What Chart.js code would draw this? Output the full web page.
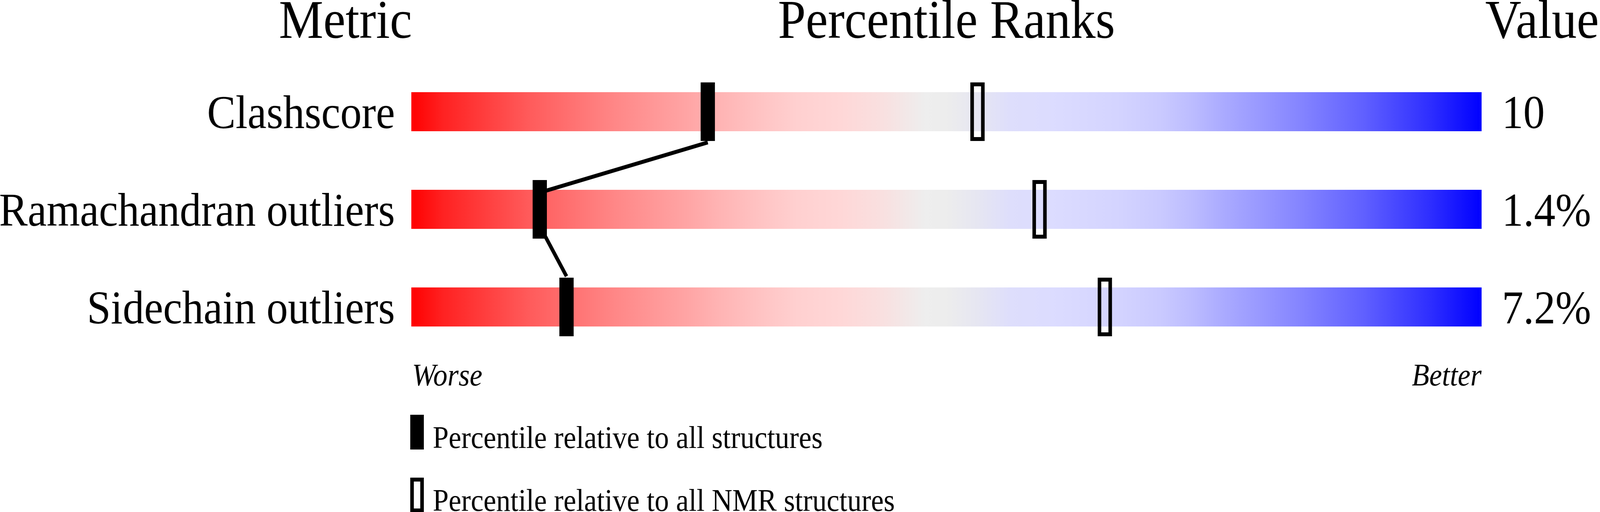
<!DOCTYPE html>
<html>
<head>
<meta charset="utf-8">
<script src="https://cdn.jsdelivr.net/npm/chart.js@4.4.1/dist/chart.umd.min.js"></script>
<style>
html,body{margin:0;padding:0;background:#ffffff;overflow:hidden;width:100%;height:100%}
#wrap{position:absolute;left:0;top:0;width:4485px;height:1311px;transform-origin:0 0}
canvas{display:block}
</style>
</head>
<body>
<div id="wrap"><canvas id="c" width="4485" height="1311" style="width:4485px;height:1311px"></canvas></div>
<script>
// ---------------- data ----------------
const metrics = ['Clashscore', 'Ramachandran outliers', 'Sidechain outliers'];
const valueLabels = ['10', '1.4%', '7.2%'];
const percentileAll = [27.7, 12.0, 14.5];   // black markers
const percentileNMR = [52.9, 58.7, 64.8];   // open markers
const rankMin = 0;
const rankMax = 100;
const headerLabels = ['Metric', 'Percentile Ranks', 'Value'];
const endLabels = ['Worse', 'Better'];
const legendLabels = ['Percentile relative to all structures', 'Percentile relative to all NMR structures'];

// ---------------- layout / style constants ----------------
const W = 4485, H = 1311;
const PLOT_LEFT = 1153, PLOT_RIGHT = 4153, PLOT_TOP = 161, PLOT_BOTTOM = 911;
const TRACK_FRAC = 0.4;   // track height / category height
const MARKER_FRAC = 0.6;  // marker height / category height
const MARKER_PX = 40;
const SERIF = '"Liberation Serif", "Times New Roman", serif';
const gradStops = [
  [0.00, '#ff0000'], [0.03, '#ff2222'], [0.08, '#ff4646'], [0.11, '#ff5b5b'],
  [0.16, '#ff7777'], [0.19, '#ff8787'], [0.23, '#ff9999'], [0.26, '#ffa6a6'],
  [0.29, '#ffb5b5'], [0.33, '#ffc5c5'], [0.36, '#ffd0d0'], [0.40, '#ffd7d7'],
  [0.44, '#f9e0e0'], [0.48, '#eeeeee'], [0.50, '#ededed'], [0.53, '#e6e6f2'],
  [0.56, '#dedefc'], [0.60, '#dcdcff'], [0.66, '#d4d4ff'], [0.70, '#cacaff'],
  [0.73, '#bcbcff'], [0.76, '#aaaaff'], [0.80, '#9595ff'], [0.83, '#8585ff'],
  [0.89, '#6060ff'], [0.95, '#3030ff'], [1.00, '#0000ff']
];

// fit the fixed-size drawing into whatever viewport the browser really has
(function fitViewport() {
  const vw = window.innerWidth || W, vh = window.innerHeight || H;
  document.getElementById('wrap').style.transform = 'scale(' + (vw / W) + ',' + (vh / H) + ')';
})();

const halfMarker = (MARKER_PX / 2) / (PLOT_RIGHT - PLOT_LEFT) * (rankMax - rankMin);
const markerRange = p => [p - halfMarker, p + halfMarker];

// connecting polyline: bottom of each track to top of the next one
const linePoints = [];
percentileAll.forEach((p, i) => {
  if (i > 0) linePoints.push({ x: p, y: i - TRACK_FRAC / 2 });
  if (i < percentileAll.length - 1) linePoints.push({ x: p, y: i + TRACK_FRAC / 2 });
});

function trackGradient(c) {
  const ca = c.chart.chartArea;
  if (!ca) return '#eeeeee';
  const g = c.chart.ctx.createLinearGradient(ca.left, 0, ca.right, 0);
  gradStops.forEach(([o, col]) => g.addColorStop(o, col));
  return g;
}

const textPlugin = {
  id: 'textPlugin',
  afterDraw(chart) {
    const ctx = chart.ctx;
    const ca = chart.chartArea;
    ctx.save();
    ctx.fillStyle = '#000';
    ctx.textBaseline = 'alphabetic';
    // headers
    ctx.font = '140px ' + SERIF;
    const hy = ca.top - 64;
    ctx.textAlign = 'right';
    ctx.fillText(headerLabels[0], ca.left + 2, hy);
    ctx.textAlign = 'center';
    ctx.fillText(headerLabels[1], (ca.left + ca.right) / 2, hy);
    ctx.textAlign = 'right';
    ctx.fillText(headerLabels[2], W - 3, hy);
    // Worse / Better
    ctx.font = 'italic 80px ' + SERIF;
    const wy = ca.bottom + 76;
    ctx.textAlign = 'left';
    ctx.fillText(endLabels[0], ca.left + 2, wy);
    ctx.textAlign = 'right';
    ctx.fillText(endLabels[1], ca.right, wy);
    // legend
    const lx = ca.left - 3, sw = 38, sh = 89;
    const ly1 = 1062, ly2 = 1223;
    ctx.fillRect(lx, ly1, sw, sh);
    ctx.lineWidth = 10;
    ctx.strokeStyle = '#000';
    ctx.strokeRect(lx + 5, ly2 + 5, sw - 10, sh - 10);
    ctx.font = '80px ' + SERIF;
    ctx.textAlign = 'left';
    ctx.fillText(legendLabels[0], lx + 63, ly1 + 85);
    ctx.fillText(legendLabels[1], lx + 63, ly2 + 85);
    ctx.restore();
  }
};

new Chart(document.getElementById('c'), {
  type: 'bar',
  data: {
    labels: metrics,
    datasets: [
      {
        label: 'All structures',
        data: percentileAll.map(markerRange),
        backgroundColor: '#000000',
        borderWidth: 0,
        barPercentage: MARKER_FRAC,
        categoryPercentage: 1,
        grouped: false,
        order: 0
      },
      {
        label: 'NMR structures',
        data: percentileNMR.map(markerRange),
        backgroundColor: 'rgba(0,0,0,0)',
        borderColor: '#000000',
        borderWidth: 10,
        borderSkipped: false,
        barPercentage: MARKER_FRAC,
        categoryPercentage: 1,
        grouped: false,
        order: 0
      },
      {
        type: 'line',
        label: 'link',
        data: linePoints,
        yAxisID: 'yl',
        borderColor: '#000000',
        borderWidth: 10,
        pointRadius: 0,
        tension: 0,
        fill: false,
        order: 1
      },
      {
        label: 'track',
        data: metrics.map(() => [rankMin, rankMax]),
        backgroundColor: trackGradient,
        borderWidth: 0,
        barPercentage: TRACK_FRAC,
        categoryPercentage: 1,
        grouped: false,
        order: 2
      }
    ]
  },
  options: {
    indexAxis: 'y',
    responsive: false,
    maintainAspectRatio: false,
    devicePixelRatio: 1,
    animation: false,
    events: [],
    layout: { padding: { top: PLOT_TOP, bottom: H - PLOT_BOTTOM, left: 0, right: 0 } },
    plugins: {
      legend: { display: false },
      tooltip: { enabled: false },
      title: { display: false }
    },
    scales: {
      x: { type: 'linear', min: rankMin, max: rankMax, display: false },
      y: {
        type: 'category',
        position: 'left',
        offset: true,
        grid: { display: false, drawTicks: false },
        border: { display: false },
        ticks: { font: { family: SERIF, size: 120 }, color: '#000', padding: 46, labelOffset: 10, autoSkip: false },
        afterFit(s) { s.width = PLOT_LEFT; }
      },
      yv: {
        type: 'category',
        labels: valueLabels,
        position: 'right',
        offset: true,
        grid: { display: false, drawTicks: false },
        border: { display: false },
        ticks: { font: { family: SERIF, size: 120 }, color: '#000', padding: 57, labelOffset: 10, autoSkip: false },
        afterFit(s) { s.width = W - PLOT_RIGHT; }
      },
      yl: { type: 'linear', min: -0.5, max: metrics.length - 0.5, reverse: true, display: false }
    }
  },
  plugins: [textPlugin]
});
</script>
</body>
</html>
